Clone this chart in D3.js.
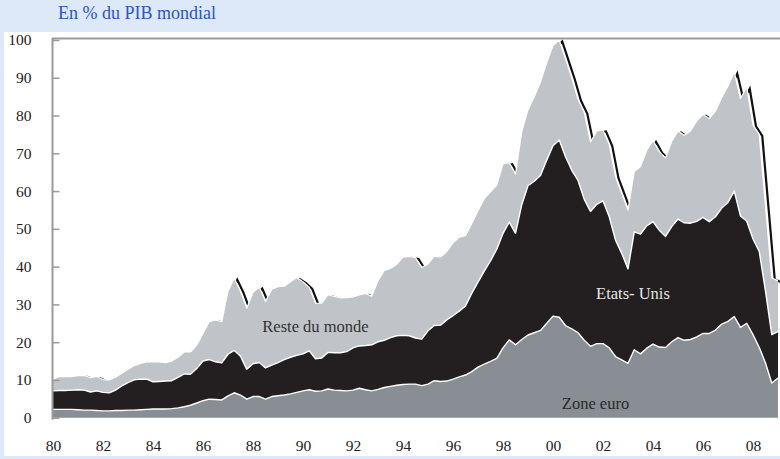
<!DOCTYPE html>
<html>
<head>
<meta charset="utf-8">
<script src="https://cdn.jsdelivr.net/npm/d3@7"></script>
<style>
  body { margin: 0; background: #dde9f8; }
  svg { display: block; }
  text { font-family: 'Liberation Serif', 'Times New Roman', 'DejaVu Serif', serif; }
</style>
</head>
<body>
<svg id="chart" width="780" height="459"></svg>
<script>
// quarterly data, 1980 Q1 -> 2009 Q1, en % du PIB mondial
const startYear = 1980

const zoneEuro = [
  2.2, 2.2, 2.2, 2.2, 2.1, 2.0, 2.0, 1.9, 1.8, 1.8, 1.9, 1.9, 2.0, 2.0, 2.1, 2.2,
  2.3, 2.3, 2.3, 2.4, 2.6, 2.9, 3.3, 3.9, 4.5, 4.9, 4.8, 4.7, 5.8, 6.6, 6.0, 4.9,
  5.6, 5.6, 4.9, 5.6, 5.8, 6.0, 6.3, 6.7, 7.1, 7.4, 7.0, 7.1, 7.6, 7.3, 7.2, 7.1,
  7.3, 7.8, 7.4, 7.1, 7.5, 8.0, 8.3, 8.6, 8.8, 8.9, 8.9, 8.5, 8.9, 9.8, 9.6, 9.7,
  10.2, 10.8, 11.3, 12.2, 13.4, 14.2, 14.9, 15.7, 18.5, 20.6, 19.3, 20.7, 21.9, 22.5, 23.1, 25.0,
  26.9, 26.6, 24.4, 23.5, 22.5, 20.5, 18.9, 19.6, 19.6, 18.5, 16.2, 15.3, 14.4, 18.0, 16.9, 18.4,
  19.5, 18.7, 18.6, 20.1, 21.2, 20.5, 20.7, 21.4, 22.3, 22.3, 23.2, 24.8, 25.5, 26.8, 23.9, 25.0,
  22.0, 18.6, 14.5, 9.2, 10.5
]

const etatsUnis = [
  4.9, 5.0, 5.0, 5.1, 5.3, 5.3, 4.8, 5.2, 4.9, 4.8, 5.4, 6.5, 7.3, 8.0, 8.1, 8.0,
  7.2, 7.3, 7.4, 7.4, 8.1, 8.7, 8.2, 9.1, 10.5, 10.5, 10.0, 9.8, 11.0, 11.2, 10.3, 7.9,
  8.7, 9.0, 8.3, 8.3, 8.8, 9.4, 9.7, 9.8, 9.8, 10.3, 8.6, 8.7, 9.7, 9.9, 10.0, 10.4,
  11.2, 11.2, 11.7, 12.2, 12.6, 12.5, 12.9, 13.1, 13.0, 12.8, 12.2, 12.3, 14.1, 14.6, 14.9, 16.2,
  16.8, 17.4, 18.3, 20.7, 22.5, 24.6, 26.6, 28.9, 30.3, 31.2, 29.5, 35.7, 39.5, 40.1, 41.0, 43.2,
  45.1, 46.9, 44.7, 42.0, 40.3, 37.3, 35.7, 36.9, 37.8, 34.7, 30.8, 28.2, 25.0, 31.2, 31.7, 32.4,
  32.4, 30.9, 29.4, 30.5, 31.4, 31.1, 30.8, 30.6, 30.7, 29.6, 30.0, 30.7, 31.5, 33.2, 29.5, 27.0,
  25.3, 25.4, 19.0, 12.8, 12.3
]

const resteDuMonde = [
  3.1, 3.7, 3.7, 3.6, 3.7, 3.9, 3.8, 3.8, 3.4, 3.4, 3.4, 3.4, 3.5, 3.8, 4.2, 4.6,
  5.3, 5.2, 4.9, 5.2, 5.3, 5.8, 5.9, 6.2, 7.3, 10.0, 11.1, 10.9, 16.7, 19.1, 17.2, 16.2,
  18.9, 20.0, 17.6, 20.1, 20.1, 19.4, 20.0, 20.6, 19.1, 16.8, 14.7, 14.5, 15.3, 14.9, 14.5, 14.3,
  13.5, 13.5, 13.8, 12.9, 16.2, 18.5, 18.3, 18.9, 20.7, 21.0, 21.3, 19.0, 17.7, 18.4, 18.0, 18.1,
  19.3, 19.6, 18.6, 18.5, 18.9, 19.2, 18.3, 17.0, 18.4, 15.7, 15.7, 19.4, 20.1, 22.4, 24.8, 25.8,
  26.5, 26.5, 25.9, 24.5, 21.5, 23.1, 18.4, 19.4, 18.8, 19.1, 16.8, 15.9, 15.6, 16.0, 17.9, 20.0,
  21.5, 20.9, 20.8, 22.6, 23.3, 23.2, 24.4, 26.6, 27.3, 27.3, 28.0, 29.3, 30.8, 31.5, 31.1, 35.5,
  30.2, 31.0, 22.5, 15.0, 13.5
]

const yearTicks = [1980, 1982, 1984, 1986, 1988, 1990, 1992, 1994, 1996, 1998, 2000, 2002, 2004, 2006, 2008]
const yTicks = [0, 10, 20, 30, 40, 50, 60, 70, 80, 90, 100]

const seriesKeys = ['euro', 'us', 'rest']
const colors = { euro: '#888e94', us: '#231f20', rest: '#c0c4c9' }

const table = zoneEuro.map(function (v, i) {
  return { t: startYear + i / 4, euro: v, us: etatsUnis[i], rest: resteDuMonde[i] }
})

const svg = d3.select('#chart')

// frame : bande bleue en haut, panneau blanc
svg.append('rect').attr('width', 780).attr('height', 459).attr('fill', '#dde9f8')
svg.append('rect').attr('x', 4).attr('y', 32).attr('width', 776).attr('height', 424).attr('fill', '#fff')

svg.append('text')
  .attr('x', 58).attr('y', 19)
  .attr('font-size', 18)
  .attr('fill', '#2b55c6')
  .text('En % du PIB mondial')

const x = d3.scaleLinear().domain([1980, 2009]).range([53, 778])
const y = d3.scaleLinear().domain([0, 100]).range([417.7, 40])

const stacked = d3.stack().keys(seriesKeys)(table)

const area = d3.area()
  .x(function (d) { return x(d.data.t) })
  .y0(function (d) { return y(d[0]) })
  .y1(function (d) { return y(d[1]) })

const topLine = d3.line()
  .x(function (d) { return x(d.data.t) })
  .y(function (d) { return y(d[1]) })

// black shadow of the total, only visible on steep falls (as in the original)
svg.append('path')
  .datum(stacked[2])
  .attr('d', topLine)
  .attr('transform', 'translate(3,1.5)')
  .attr('fill', 'none')
  .attr('stroke', '#111')
  .attr('stroke-width', 2.2)

svg.selectAll('.layer')
  .data(stacked)
  .enter()
  .append('path')
  .attr('class', 'layer')
  .attr('d', area)
  .attr('fill', function (d) { return colors[d.key] })

// white separators
svg.selectAll('.sep')
  .data(stacked)
  .enter()
  .append('path')
  .attr('class', 'sep')
  .attr('d', topLine)
  .attr('fill', 'none')
  .attr('stroke', '#fff')
  .attr('stroke-width', function (d) { return d.key === 'rest' ? 1.2 : 1.4 })
  .attr('stroke-linejoin', 'round')

// y axis
const yAxis = svg.append('g')
  .attr('transform', 'translate(52.5,0)')
  .call(d3.axisLeft(y).tickValues(yTicks).tickSize(-7).tickPadding(21))
yAxis.select('.domain').attr('stroke', '#9a9a9a').attr('stroke-width', 2)
  .attr('d', 'M0,' + (y(0) + 2) + 'V38')
yAxis.selectAll('.tick line').attr('stroke', '#9a9a9a').attr('stroke-width', 1.5)
yAxis.selectAll('.tick text')
  .attr('font-family', null)
  .attr('font-size', 15.5).attr('fill', '#222')

// top border
svg.append('line')
  .attr('x1', 52).attr('x2', 780).attr('y1', 38.5).attr('y2', 38.5)
  .attr('stroke', '#9a9a9a').attr('stroke-width', 2)

// x axis
const xAxis = svg.append('g')
  .attr('transform', 'translate(0,' + 443 + ')')
  .call(d3.axisBottom(x).tickValues(yearTicks).tickSize(0)
    .tickFormat(function (d) { return String(d % 100).padStart(2, '0') }))
xAxis.select('.domain').remove()
xAxis.selectAll('.tick text')
  .attr('font-family', null)
  .attr('font-size', 15.5).attr('fill', '#222')
  .attr('dy', '0.32em')

// labels
const labels = [
  { text: 'Reste du monde', t: 1990.5, v: 22.6, fill: '#333' },
  { text: 'Etats- Unis', t: 2003.2, v: 31.4, fill: '#e6e6e6' },
  { text: 'Zone euro', t: 2001.7, v: 2.4, fill: '#2a2a2a' }
]
svg.selectAll('.lab')
  .data(labels)
  .enter()
  .append('text')
  .attr('class', 'lab')
  .attr('x', function (d) { return x(d.t) })
  .attr('y', function (d) { return y(d.v) })
  .attr('text-anchor', 'middle')
  .attr('font-size', 16.5)
  .attr('fill', function (d) { return d.fill })
  .text(function (d) { return d.text })
</script>
</body>
</html>
